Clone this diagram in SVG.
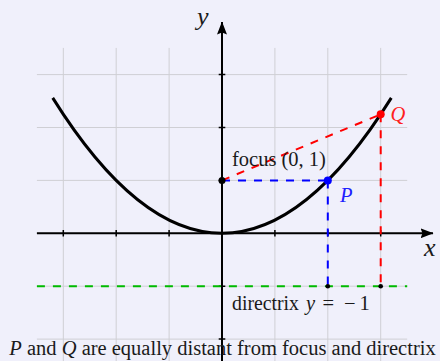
<svg xmlns="http://www.w3.org/2000/svg" width="440" height="361" viewBox="0 0 440 361">
<defs>
<style>
.grid{stroke:#cfcfd4;stroke-width:1;fill:none}
.axis{stroke:#000;stroke-width:2;fill:none}
.tick{stroke:#000;stroke-width:1.5}
.dash{stroke-width:2;stroke-dasharray:8 8;fill:none}
.t{font-family:"Liberation Serif","Times New Roman",serif;font-size:20.5px;fill:#1a1a1a}
.it{font-style:italic}
.ax{font-family:"Liberation Serif","Times New Roman",serif;font-size:26px;font-style:italic;fill:#1a1a1a}
</style>
<marker id="arr" viewBox="0 0 13 10" refX="12.5" refY="5" markerWidth="13" markerHeight="10" markerUnits="userSpaceOnUse" orient="auto">
<path d="M0,0 L13,5 L0,10 L2,5 Z" fill="#000"/>
</marker>
</defs>
<rect width="440" height="361" fill="#f0f0fb"/>
<g id="grid" class="grid">
<path d="M63.3,47.9V365M116.2,47.9V365M169.1,47.9V365M222,47.9V365M274.9,47.9V365M327.8,47.9V365M380.7,47.9V365"/>
<path d="M36.9,74.6H407.2M36.9,127.5H407.2M36.9,180.4H407.2M36.9,233.3H407.2M36.9,286.2H407.2M36.9,339.1H407.2"/>
</g>
<g id="axes">
<line class="axis" x1="36.9" y1="233.3" x2="433" y2="233.3" marker-end="url(#arr)"/>
<line class="axis" x1="222" y1="365" x2="222" y2="22" marker-end="url(#arr)"/>
<path class="tick" d="M63.3,230V236.6M116.2,230V236.6M169.1,230V236.6M274.9,230V236.6M327.8,230V236.6M380.7,230V236.6M218.7,74.6H225.3M218.7,127.5H225.3M218.7,180.4H225.3M218.7,286.2H225.3M218.7,339.1H225.3"/>
<text class="ax" x="197" y="25">y</text>
<text class="ax" x="424" y="255.5">x</text>
</g>
<g id="directrix">
<line class="dash" stroke="#00bb00" x1="36.9" y1="286.2" x2="407.2" y2="286.2"/>
</g>
<g id="parabola">
<path d="M52.72,97.88Q222,368.72 391.28,97.88" fill="none" stroke="#000" stroke-width="3"/>
</g>
<g id="connectors">
<line class="dash" stroke="#0000ff" x1="222" y1="180.4" x2="327.8" y2="180.4"/>
<line class="dash" stroke="#0000ff" x1="327.8" y1="180.4" x2="327.8" y2="286.2"/>
<line class="dash" stroke="#ff0000" x1="222" y1="180.4" x2="380.7" y2="114.3"/>
<line class="dash" stroke="#ff0000" x1="380.7" y1="114.3" x2="380.7" y2="286.2"/>
</g>
<g id="focus">
<circle cx="222" cy="180.4" r="3.5" fill="#000"/>
<text class="t" x="232" y="166">focus (0, 1)</text>
</g>
<g id="P">
<circle cx="327.8" cy="180.4" r="4" fill="#0000ff"/>
<text class="t it" x="340" y="201.5" style="fill:#2020ff">P</text>
</g>
<g id="Q">
<circle cx="380.7" cy="114.3" r="4" fill="#ff0000"/>
<text class="t it" x="390.5" y="120.5" style="fill:#ff2020">Q</text>
</g>
<g id="feet">
<circle cx="327.8" cy="286.2" r="2.3" fill="#000"/>
<circle cx="380.7" cy="286.2" r="2.3" fill="#000"/>
</g>
<g id="directrix-label">
<text class="t" x="232" y="310"><tspan textLength="67" lengthAdjust="spacingAndGlyphs">directrix</tspan><tspan class="it" x="306">y</tspan><tspan x="322.5">=</tspan><tspan x="344">−</tspan><tspan x="359.5">1</tspan></text>
</g>
<g id="caption">
<text class="t" x="222.5" y="355" text-anchor="middle"><tspan class="it">P</tspan> and <tspan class="it">Q</tspan> are equally distant from focus and directrix</text>
</g>
</svg>
